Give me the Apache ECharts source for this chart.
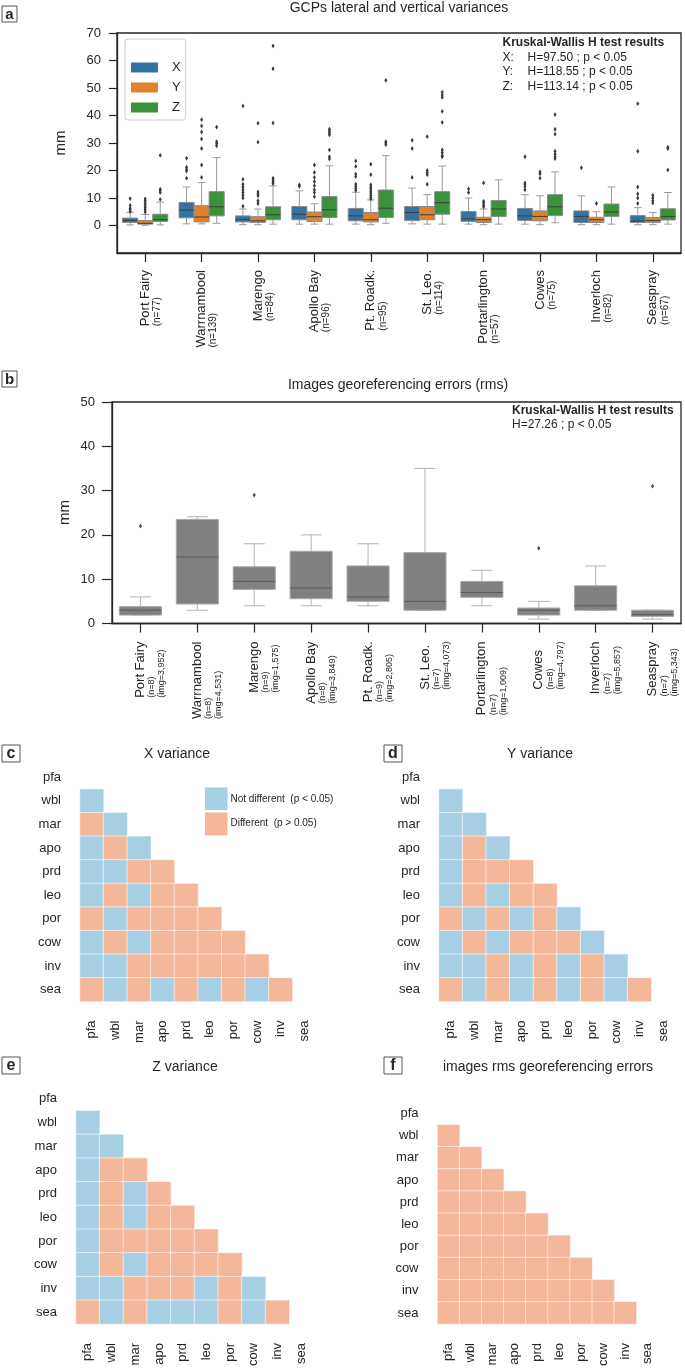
<!DOCTYPE html>
<html><head><meta charset="utf-8">
<script src="https://cdn.jsdelivr.net/npm/echarts@6/dist/echarts.min.js"></script>
<style>html,body{margin:0;padding:0;background:#fff}
#wrap{position:relative;width:685px;height:1371px}
#ca,#cb{position:absolute;left:0;top:0;width:685px;height:1371px}
#cb{z-index:2}</style>
</head><body><div id="wrap"><div id="ca"></div><div id="cb"></div></div>
<script>
const FONT = 'Liberation Sans, Arial, Helvetica, sans-serif';
const TXT = '#262626';

// ---------- panel a data ----------
const sitesA = ['Port Fairy','Warrnambool','Marengo','Apollo Bay','Pt. Roadk.','St. Leo.','Portarlington','Cowes','Inverloch','Seaspray'];
const nA = [77,139,84,96,95,114,57,75,82,67];
const yTicksA = [0,10,20,30,40,50,60,70];
// [min, q1, median, q3, max] mm
const xBox = [
 [0.2,1.1,1.9,2.7,4.8],[0.6,2.8,5.6,8.4,14.0],[0.3,1.3,2.1,3.5,6.0],[0.5,2.1,4.1,6.9,12.6],[0.5,1.7,3.5,6.2,12.1],
 [0.6,1.8,4.7,6.9,13.6],[0.5,1.5,2.4,5.1,10.0],[0.5,1.8,3.5,6.2,11.2],[0.3,1.1,3.3,5.3,10.8],[0.3,1.1,1.6,3.6,6.5]
];
const yBox = [
 [0.1,0.5,0.8,1.8,4.0],[0.6,1.3,3.1,7.2,15.6],[0.3,1.1,1.7,3.2,6.0],[0.5,1.5,3.2,4.9,7.9],[0.3,1.3,2.1,4.7,9.3],
 [0.5,2.1,3.9,6.9,11.2],[0.3,1.1,2.1,3.0,6.0],[0.3,1.7,3.3,5.3,10.8],[0.3,1.1,2.1,3.0,5.0],[0.3,1.1,1.8,2.9,4.7]
];
const zBox = [
 [0.2,1.5,2.1,4.1,8.5],[0.8,3.5,6.8,12.3,24.7],[0.5,2.1,3.9,6.8,14.4],[0.5,2.9,5.7,10.5,21.7],[0.8,2.9,6.3,12.9,25.4],
 [0.5,4.1,8.3,12.3,21.6],[0.5,3.3,6.0,9.1,16.6],[1.0,3.6,6.8,11.2,19.5],[0.5,3.3,4.9,7.8,14.0],[0.5,2.0,3.3,6.1,12.0]
];
const xOut = [
 [9.8,7.3,6.3,5.7,5.1],[24.5,21.2,20.5,19.8,17.2],[43.5,16.8,15.0,14.0,13.0,12.0,11.0,10.0,7.0],[14.8,14.2],
 [23.5,21.5,18.7,17.8,15.0,14.2,13.5,12.8],[31.0,28.0,17.5],[13.3,12.0],[25.0,15.5,15.0,14.2,13.0],[21.0],[44.3,27.0,14.0,11.5,10.0,8.0]
];
const yOut = [
 [9.7,9.0,8.1,7.3,6.5,5.7,4.9],[38.5,36.2,34.0,31.5,28.0,22.0,17.5],[37.2,30.3,12.2,11.5,10.8,9.0,8.0],
 [22.0,19.3,17.5,16.0,14.5,13.0,12.0,10.5],[22.3,18.5,14.8,14.0,13.3,12.5,11.8,11.0,10.2,9.7],[32.3,20.0,19.2,18.5,15.0],
 [15.5,8.8,8.2,7.5,6.8],[19.5,18.8,17.2],[8.0],[11.0,10.0,9.0,8.2]
];
const zOut = [
 [25.5,13.2,12.7,12.0,9.5],[35.8,30.5,29.8,29.0],[65.3,57.0,37.3,17.2,16.5,15.8,15.2],[35.0,34.3,33.6,33.0,27.5,25.0,24.2],
 [52.8,30.5,30.0,29.4],[48.5,47.5,46.6,41.5,37.5,27.5,26.5,25.5,25.0],[],[40.3,35.0,33.2,27.0,26.0,25.0,24.3],[],[28.5,28.0,20.2]
];

// ---------- panel b data ----------
const nB = [8,8,9,8,9,7,7,8,7,7];
const imgB = ['3,952','4,531','1,575','3,849','2,805','4,073','1,009','4,797','5,857','5,343'];
const yTicksB = [0,10,20,30,40,50];
const rmsBox = [
 [1.9,1.9,3.0,3.8,6.0],[3.0,4.4,15.0,23.5,24.1],[4.0,7.7,9.5,12.8,18.0],[4.0,5.6,8.0,16.3,20.0],[4.0,5.0,6.0,13.0,18.0],
 [3.0,3.0,5.0,16.0,35.0],[4.0,5.9,7.0,9.5,12.0],[1.0,1.9,3.0,3.5,5.0],[3.0,3.0,4.0,8.5,13.0],[1.0,1.6,2.0,3.0,3.0]
];
const rmsOut = [[22],[],[29],[],[],[],[],[17],[],[31]];

// ---------- heatmaps (0 = not different, 1 = different), rows wbl..sea ----------
const hmSites = ['pfa','wbl','mar','apo','prd','leo','por','cow','inv','sea'];
const xVarSig = [[0],[1,0],[0,1,0],[0,0,1,1],[0,1,0,1,1],[1,0,1,1,1,1],[0,1,0,1,1,1,1],[0,0,1,1,1,1,1,1],[1,0,1,0,1,0,1,0,1]];
const yVarSig = [[0],[0,0],[0,1,0],[0,1,1,1],[0,1,0,1,1],[1,0,1,0,1,0],[0,1,0,1,1,1,0],[0,0,1,0,1,0,1,0],[1,0,1,0,1,0,1,0,1]];
const zVarSig = [[0],[0,0],[0,1,1],[0,1,0,1],[0,1,0,1,1],[0,1,1,1,1,1],[0,1,0,1,1,1,1],[0,0,1,1,1,0,1,0],[1,0,1,0,0,0,1,0,1]];
const rmsSig  = [[1],[1,1],[1,1,1],[1,1,1,1],[1,1,1,1,1],[1,1,1,1,1,1],[1,1,1,1,1,1,1],[1,1,1,1,1,1,1,1],[1,1,1,1,1,1,1,1,1]];

const COL = {X:'#3274a1', Y:'#e1812c', Z:'#3a923a'};
const BLUE = '#a7cfe3', ORANGE = '#f5b799';

function boxItem(offset, widthFrac, fill, edge, whisk, med) {
  return function (params, api) {
    const ci = api.value(0);
    const band = api.size([1, 0])[0];
    const cx = api.coord([ci, 0])[0] + offset * band;
    const w = widthFrac * band;
    const py = k => api.coord([ci, api.value(k)])[1];
    const yMin = py(1), yQ1 = py(2), yMed = py(3), yQ3 = py(4), yMax = py(5);
    const ws = {stroke: whisk, lineWidth: 1};
    return {type:'group', children:[
      {type:'line', shape:{x1:cx,y1:yQ3,x2:cx,y2:yMax}, style:ws},
      {type:'line', shape:{x1:cx,y1:yQ1,x2:cx,y2:yMin}, style:ws},
      {type:'line', shape:{x1:cx-w/4,y1:yMax,x2:cx+w/4,y2:yMax}, style:ws},
      {type:'line', shape:{x1:cx-w/4,y1:yMin,x2:cx+w/4,y2:yMin}, style:ws},
      {type:'rect', shape:{x:cx-w/2,y:yQ3,width:w,height:Math.max(yQ1-yQ3,0.5)}, style:{fill:fill, stroke:edge, lineWidth:1}},
      {type:'line', shape:{x1:cx-w/2,y1:yMed,x2:cx+w/2,y2:yMed}, style:{stroke:med, lineWidth:1}}
    ]};
  };
}
function outItem(offset, color) {
  return function (params, api) {
    const ci = api.value(0);
    const band = api.size([1, 0])[0];
    const p = api.coord([ci, api.value(1)]);
    const cx = p[0] + offset * band, cy = p[1];
    return {type:'polygon', shape:{points:[[cx,cy-2.4],[cx+1.5,cy],[cx,cy+2.4],[cx-1.5,cy]]}, style:{fill:color}};
  };
}
const boxData = arr => arr.map((b, i) => [i].concat(b));
const outData = arr => arr.flatMap((a, i) => a.map(v => [i, v]));
function hmData(rows) { const d = []; rows.forEach((r, ri) => r.forEach((v, ci) => d.push([ci, ri + 1, v]))); return d; }

function txt(x, y, text, font, align, extra) {
  return Object.assign({type:'text', x:x, y:y, silent:true,
    style:{text:text, font:font, fill:TXT, textAlign:align || 'center', align:align || 'center',
           textVerticalAlign:'middle', verticalAlign:'middle'}}, extra || {});
}
function letter(x, y, w, h, t, size) {
  return {type:'group', silent:true, children:[
    {type:'rect', shape:{x:x, y:y, width:w, height:h}, style:{fill:'#fff', stroke:'#555', lineWidth:1}},
    txt(x + w / 2, y + h / 2 + 0.5, t, `bold ${size}px ${FONT}`)
  ]};
}
const F = s => `${s}px ${FONT}`;
const lbl = {fontFamily:FONT, color:TXT};

// ================= chart A: panel a =================
const W3 = 0.8 / 3;
const seriesA = [];
['X','Y','Z'].forEach((k, j) => {
  seriesA.push({name:k, type:'custom', itemStyle:{color:COL[k]},
    renderItem: boxItem((j - 1) * W3, W3, COL[k], '#8a8a8a', '#9a9a9a', '#3d3d3d'),
    encode:{x:0, y:[1,2,3,4,5]}, data: boxData([xBox, yBox, zBox][j]), z:2});
});
['X','Y','Z'].forEach((k, j) => {
  seriesA.push({name:k + ' outliers', type:'custom',
    renderItem: outItem((j - 1) * W3, '#3a3a3a'), encode:{x:0, y:1}, data: outData([xOut, yOut, zOut][j]), z:3});
});
const chartA = echarts.init(document.getElementById('ca'));
chartA.setOption({
  animation:false, backgroundColor:'#fff', textStyle:{fontFamily:FONT},
  grid:[{left:117, top:33, width:564, height:220, show:true, borderColor:TXT, borderWidth:1.3, backgroundColor:'transparent'}],
  xAxis:[{type:'category', data:sitesA,
    axisLine:{show:true, onZero:false, lineStyle:{color:TXT, width:1.3}},
    axisTick:{show:true, alignWithLabel:true, length:9, lineStyle:{color:TXT, width:1.2}},
    axisLabel:{interval:0, rotate:90, margin:17,
      formatter:(v, i) => `{p| }\n{n|${v}}\n{s|(n=${nA[i]})}`,
      rich:{p:{fontSize:10, lineHeight:11, align:'left'}, n:Object.assign({fontSize:13, lineHeight:13, align:'left'}, lbl),
            s:Object.assign({fontSize:10, lineHeight:11, align:'left'}, lbl)}},
    splitLine:{show:false}}],
  yAxis:[{type:'value', min:-10, max:70, interval:10,
    axisLine:{show:true, onZero:false, lineStyle:{color:TXT, width:1.3}},
    axisTick:{show:true, length:8, customValues:yTicksA, lineStyle:{color:TXT, width:1.2}},
    axisLabel:Object.assign({fontSize:13, margin:16, customValues:yTicksA, formatter:v => (v < 0 ? '' : String(v))}, lbl),
    splitLine:{show:false}}],
  legend:{data:['X','Y','Z'], orient:'vertical', left:125, top:39, padding:[22, 5, 6, 6], itemGap:7,
    itemWidth:27, itemHeight:10, icon:'rect', backgroundColor:'#fff', borderColor:'#cccccc', borderWidth:1, borderRadius:3,
    textStyle:{fontSize:13, color:TXT, fontFamily:FONT, lineHeight:12, padding:[0,0,0,9]}, selectedMode:false},
  series: seriesA,
  graphic:[
    letter(2, 6, 15, 16, 'a', 15),
    txt(399, 8.5, 'GCPs lateral and vertical variances', F(14)),
    txt(61, 143, 'mm', F(15), 'center', {rotation:Math.PI / 2}),
    txt(502.5, 43, 'Kruskal-Wallis H test results', `bold 12px ${FONT}`, 'left'),
    txt(502.5, 57.5, 'X:', F(12), 'left'), txt(527.5, 57.5, 'H=97.50 ; p < 0.05', F(12), 'left'),
    txt(502.5, 72, 'Y:', F(12), 'left'), txt(527.5, 72, 'H=118.55 ; p < 0.05', F(12), 'left'),
    txt(502.5, 86.5, 'Z:', F(12), 'left'), txt(527.5, 86.5, 'H=113.14 ; p < 0.05', F(12), 'left'),
    txt(154.5, 49.5, 'Variance', F(13))
  ]
});

// ================= chart B: panel b + heatmaps =================
const seriesB = [];
seriesB.push({name:'rms', type:'custom', xAxisIndex:0, yAxisIndex:0,
  renderItem: boxItem(0, 0.74, '#808080', '#a8a8a8', '#b4b4b4', '#5a5a5a'),
  encode:{x:0, y:[1,2,3,4,5]}, data: boxData(rmsBox), z:2});
seriesB.push({name:'rms outliers', type:'custom', xAxisIndex:0, yAxisIndex:0,
  renderItem: outItem(0, '#444'), encode:{x:0, y:1}, data: outData(rmsOut), z:3});
[xVarSig, yVarSig, zVarSig, rmsSig].forEach((rows, k) => {
  seriesB.push({type:'heatmap', xAxisIndex:1 + k, yAxisIndex:1 + k, data: hmData(rows),
    itemStyle:{borderColor:'rgba(255,255,255,0.55)', borderWidth:1}, emphasis:{disabled:true}});
});
const gridsB = [
  {left:112, top:402, width:569, height:221.5, show:true, borderColor:TXT, borderWidth:1.3, backgroundColor:'transparent'},
  {left:80, top:765.5, width:236, height:236},
  {left:439, top:765.5, width:236, height:236},
  {left:76, top:1087, width:237, height:237},
  {left:437.5, top:1102.5, width:221, height:221.5}
];
const xAxesB = [{type:'category', gridIndex:0, data:sitesA,
  axisLine:{show:true, onZero:false, lineStyle:{color:TXT, width:1.3}},
  axisTick:{show:true, alignWithLabel:true, length:9, lineStyle:{color:TXT, width:1.2}},
  axisLabel:{interval:0, rotate:90, margin:18,
    formatter:(v, i) => `{p| }\n{p| }\n{n|${v}}\n{s|(n=${nB[i]})}\n{s|(img=${imgB[i]})}`,
    rich:{p:{fontSize:9, lineHeight:10, align:'left'}, n:Object.assign({fontSize:13, lineHeight:13, align:'left'}, lbl),
          s:Object.assign({fontSize:9, lineHeight:10, align:'left'}, lbl)}},
  splitLine:{show:false}}];
const yAxesB = [{type:'value', gridIndex:0, min:0, max:50, interval:10,
  axisLine:{show:true, onZero:false, lineStyle:{color:TXT, width:1.3}},
  axisTick:{show:true, length:10, lineStyle:{color:TXT, width:1.2}},
  axisLabel:Object.assign({fontSize:13, margin:17}, lbl), splitLine:{show:false}}];
for (let k = 1; k < 5; k++) {
  xAxesB.push({type:'category', gridIndex:k, data:hmSites, axisLine:{show:false, onZero:false}, axisTick:{show:false}, splitLine:{show:false},
    axisLabel:Object.assign({interval:0, rotate:90, margin:19, fontSize:13}, lbl)});
  yAxesB.push({type:'category', gridIndex:k, data:hmSites, inverse:true, axisLine:{show:false, onZero:false}, axisTick:{show:false}, splitLine:{show:false},
    axisLabel:Object.assign({interval:0, margin:19, fontSize:13}, lbl)});
}
const chartB = echarts.init(document.getElementById('cb'));
chartB.setOption({
  animation:false, backgroundColor:'transparent', textStyle:{fontFamily:FONT},
  grid: gridsB, xAxis: xAxesB, yAxis: yAxesB,
  visualMap:{type:'piecewise', show:false, dimension:2, seriesIndex:[2,3,4,5],
    pieces:[{value:0, color:BLUE}, {value:1, color:ORANGE}]},
  series: seriesB,
  graphic:[
    letter(2, 371, 15, 16, 'b', 15),
    letter(2, 745, 18, 17, 'c', 16), letter(384, 745, 18, 17, 'd', 16),
    letter(2, 1057, 18, 17, 'e', 16), letter(384, 1057, 18, 17, 'f', 16),
    txt(398, 385, 'Images georeferencing errors (rms)', F(14)),
    txt(177, 754, 'X variance', F(14)), txt(540, 754, 'Y variance', F(14)),
    txt(185, 1067, 'Z variance', F(14)), txt(548, 1067, 'images rms georeferencing errors', F(14)),
    txt(65, 512.5, 'mm', F(15), 'center', {rotation:Math.PI / 2}),
    txt(512, 411, 'Kruskal-Wallis H test results', `bold 12px ${FONT}`, 'left'),
    txt(512, 424.5, 'H=27.26 ; p < 0.05', F(12), 'left'),
    {type:'rect', silent:true, shape:{x:205, y:787.5, width:22.5, height:22.5}, style:{fill:BLUE}},
    {type:'rect', silent:true, shape:{x:205, y:812.5, width:22.5, height:23}, style:{fill:ORANGE}},
    txt(230.5, 799, 'Not different  (p < 0.05)', F(10), 'left'),
    txt(230.5, 823.5, 'Different  (p > 0.05)', F(10), 'left')
  ]
});
</script></body></html>
